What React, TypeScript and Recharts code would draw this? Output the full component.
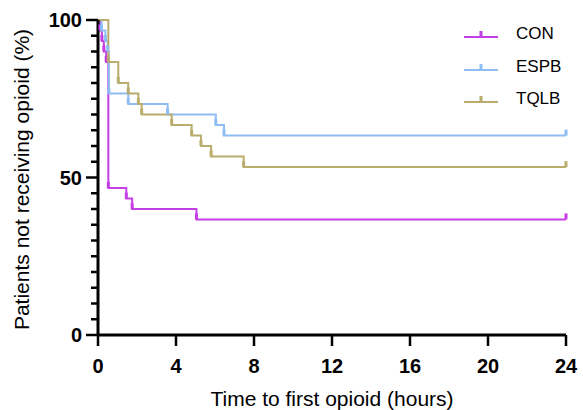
import { LineChart, Line, XAxis, YAxis } from "recharts";

// Kaplan-Meier steps: time (h) and % of patients not yet given an opioid
const conTime = [0, 0.1, 0.2, 0.3, 0.42, 0.53, 1.45, 1.75, 5.05, 24];
const conPct = [100, 96.7, 93.3, 90, 86.7, 46.7, 43.3, 40, 36.7, 36.7];
const espbTime = [0, 0.18, 0.38, 0.5, 0.56, 1.55, 3.57, 6.04, 6.46, 24];
const espbPct = [100, 96.7, 93.3, 90, 76.7, 73.3, 70, 66.7, 63.3, 63.3];
const tqlbTime = [0, 0.53, 1.04, 1.55, 2.07, 2.24, 3.78, 4.8, 5.28, 5.8, 7.47, 24];
const tqlbPct = [100, 86.7, 80, 76.7, 73.3, 70, 66.7, 63.3, 60, 56.7, 53.3, 53.3];

const groups = ["CON", "ESPB", "TQLB"];
const groupColors = ["#c43fe6", "#8dbdf3", "#baac6c"];

const xTicks = [0, 4, 8, 12, 16, 20, 24];
const yTicks = [0, 5, 10, 15, 20, 25, 30, 35, 40, 45, 50, 55, 60, 65, 70, 75, 80, 85, 90, 95, 100];
const yLabels = [0, 50, 100];

const FONT = "'Liberation Sans', Arial, sans-serif";

const toSteps = (times: number[], pcts: number[]) =>
  times.map((t, i) => ({ t, s: pcts[i] }));

const series = [
  toSteps(conTime, conPct),
  toSteps(espbTime, espbPct),
  toSteps(tqlbTime, tqlbPct),
];

// small upright tick at each step, like the censor marks in the figure
const censorTick = (color: string) => (props: any) => {
  const { cx, cy, index } = props;
  if (index === 0 || cx == null) return <g key={`c-${index}`} />;
  return <rect key={`c-${index}`} x={cx - 1.5} y={cy - 6} width={3} height={6} fill={color} />;
};

// y ticks: long mark + bold label at 0/50/100, short mark every 5
const renderYTick = (props: any) => {
  const { x, y, payload } = props;
  const px = Number(x);
  const py = Number(y);
  const major = yLabels.includes(payload.value);
  const len = major ? 12 : 7;
  return (
    <g key={`yt-${payload.value}`}>
      <path d={`M${px - len},${py}H${px}`} stroke="#000" strokeWidth={2.5} fill="none" />
      {major && (
        <text x={px - 16} y={py} dy="0.36em" textAnchor="end" fontFamily={FONT} fontWeight={700} fontSize={20} fill="#000">
          {payload.value}
        </text>
      )}
    </g>
  );
};

const renderXTick = (props: any) => {
  const { x, y, payload } = props;
  return (
    <text key={`xt-${payload.value}`} x={Number(x)} y={Number(y)} dy="0.72em" textAnchor="middle" fontFamily={FONT} fontWeight={700} fontSize={20} fill="#000">
      {payload.value}
    </text>
  );
};

function GroupLegend() {
  return (
    <div style={{ position: "absolute", left: 462, top: 18, fontFamily: FONT, fontSize: 17 }}>
      {groups.map((g, i) => (
        <div key={g} style={{ display: "flex", alignItems: "center", height: 32.5 }}>
          <svg width={38} height={14}>
            <line x1={2} x2={36} y1={10} y2={10} stroke={groupColors[i]} strokeWidth={2} />
            <rect x={17.5} y={4} width={3} height={6} fill={groupColors[i]} />
          </svg>
          <span style={{ marginLeft: 16 }}>{g}</span>
        </div>
      ))}
    </div>
  );
}

export default function App() {
  return (
    <div style={{ position: "absolute", left: 0, top: 0, width: 583, height: 410, background: "#fff" }}>
      <LineChart width={583} height={410} margin={{ top: 20, right: 17, bottom: 0, left: 0 }}>
        <XAxis
          dataKey="t"
          type="number"
          domain={[0, 24]}
          ticks={xTicks}
          interval={0}
          height={75}
          axisLine={{ stroke: "#000", strokeWidth: 3 }}
          tickLine={{ stroke: "#000", strokeWidth: 2.5 }}
          tickSize={11}
          tickMargin={13}
          tick={renderXTick}
          label={{
            content: ({ viewBox }: any) => (
              <text x={viewBox.x + viewBox.width / 2} y={viewBox.y + 71} textAnchor="middle" fontFamily={FONT} fontSize={21} fill="#000">
                Time to first opioid (hours)
              </text>
            ),
          }}
        />
        <YAxis
          type="number"
          domain={[0, 100]}
          ticks={yTicks}
          interval={0}
          width={98}
          axisLine={{ stroke: "#000", strokeWidth: 3 }}
          tickLine={false}
          tickSize={0}
          tickMargin={0}
          tick={renderYTick}
          label={{
            content: ({ viewBox }: any) => {
              const cx = viewBox.x + 29;
              const cy = viewBox.y + viewBox.height / 2 + 2;
              return (
                <text x={cx} y={cy} transform={`rotate(-90, ${cx}, ${cy})`} textAnchor="middle" fontFamily={FONT} fontSize={21} fill="#000">
                  Patients not receiving opioid (%)
                </text>
              );
            },
          }}
        />
        {series.map((d, i) => (
          <Line
            key={groups[i]}
            data={d}
            dataKey="s"
            name={groups[i]}
            type="stepAfter"
            stroke={groupColors[i]}
            strokeWidth={2}
            dot={censorTick(groupColors[i])}
            activeDot={false}
            isAnimationActive={false}
          />
        ))}
      </LineChart>
      <GroupLegend />
    </div>
  );
}
